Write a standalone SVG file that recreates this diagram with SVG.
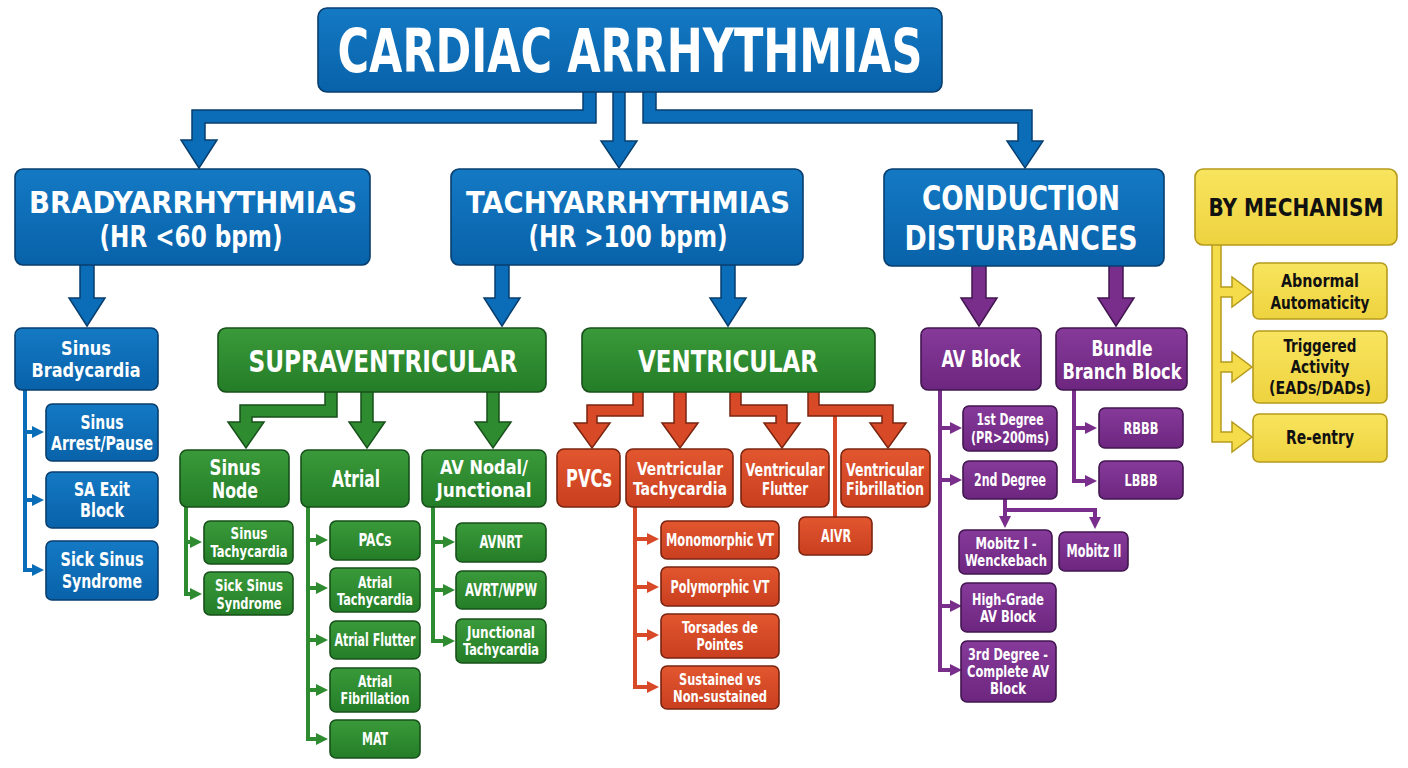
<svg xmlns="http://www.w3.org/2000/svg" width="1408" height="768" viewBox="0 0 1408 768">
<defs>
<linearGradient id="gB" x1="0" y1="0" x2="0" y2="1"><stop offset="0" stop-color="#1479c4"/><stop offset="1" stop-color="#0862a9"/></linearGradient>
<linearGradient id="gG" x1="0" y1="0" x2="0" y2="1"><stop offset="0" stop-color="#3a9a3a"/><stop offset="1" stop-color="#247d27"/></linearGradient>
<linearGradient id="gO" x1="0" y1="0" x2="0" y2="1"><stop offset="0" stop-color="#e2562f"/><stop offset="1" stop-color="#c93f1f"/></linearGradient>
<linearGradient id="gP" x1="0" y1="0" x2="0" y2="1"><stop offset="0" stop-color="#863a9a"/><stop offset="1" stop-color="#6d267f"/></linearGradient>
<linearGradient id="gY" x1="0" y1="0" x2="0" y2="1"><stop offset="0" stop-color="#f8e45e"/><stop offset="1" stop-color="#eed33f"/></linearGradient>
<marker id="mB" viewBox="0 0 12 12" refX="2" refY="6" markerWidth="12" markerHeight="12" markerUnits="userSpaceOnUse" orient="auto"><path d="M0,0 L12,6 L0,12 Z" fill="#0a6db8"/></marker>
<marker id="mG" viewBox="0 0 12 12" refX="2" refY="6" markerWidth="12" markerHeight="12" markerUnits="userSpaceOnUse" orient="auto"><path d="M0,0 L12,6 L0,12 Z" fill="#2e8b30"/></marker>
<marker id="mO" viewBox="0 0 12 12" refX="2" refY="6" markerWidth="12" markerHeight="12" markerUnits="userSpaceOnUse" orient="auto"><path d="M0,0 L12,6 L0,12 Z" fill="#d84a27"/></marker>
<marker id="mP" viewBox="0 0 12 12" refX="2" refY="6" markerWidth="12" markerHeight="12" markerUnits="userSpaceOnUse" orient="auto"><path d="M0,0 L12,6 L0,12 Z" fill="#7a2e8c"/></marker>
</defs>
<style>
.b{fill:url(#gB);stroke:#083e6e;stroke-width:1.6}
.g{fill:url(#gG);stroke:#17501a;stroke-width:1.6}
.o{fill:url(#gO);stroke:#7a2410;stroke-width:1.6}
.p{fill:url(#gP);stroke:#41164f;stroke-width:1.6}
.y{fill:url(#gY);stroke:#b59a1c;stroke-width:1.6}
.ab{fill:#0b6db7;stroke:#083e6e;stroke-width:1.5;stroke-linejoin:miter}
.ag{fill:#2e8b30;stroke:#17501a;stroke-width:1.5}
.ao{fill:#d84a27;stroke:#7a2410;stroke-width:1.5}
.ap{fill:#7a2e8c;stroke:#41164f;stroke-width:1.5}
.ay{fill:#f5dc4a;stroke:#b59a1c;stroke-width:1.5}
.lb{fill:none;stroke:#0a6db8;stroke-width:4;marker-end:url(#mB)}
.lg{fill:none;stroke:#2e8b30;stroke-width:4;marker-end:url(#mG)}
.lo{fill:none;stroke:#d84a27;stroke-width:4;marker-end:url(#mO)}
.lp{fill:none;stroke:#7a2e8c;stroke-width:4;marker-end:url(#mP)}
text{font-family:"Liberation Sans Narrow","DejaVu Sans Condensed","Liberation Sans",Arial,sans-serif;font-weight:bold;fill:#fff;text-anchor:middle}
.k{fill:#111}
</style>
<rect width="1408" height="768" fill="#fff"/>
<g id="connectors">
<path class="ab" d="M583,90 V110 H192 V140 H181 L199,168 L217,140 H205 V123 H596 V90 Z"/>
<path class="ab" d="M613,90 V141 H601 L619,168 L637,141 H625 V90 Z"/>
<path class="ab" d="M643,90 V123 H1018 V141 H1007 L1025,168 L1043,141 H1032 V110 H656 V90 Z"/>
<path class="ab" d="M80,264 V298 H69 L87,326 L105,298 H94 V264 Z"/>
<path class="ab" d="M495,264 V298 H484 L502,326 L520,298 H509 V264 Z"/>
<path class="ab" d="M721,264 V298 H710 L728,326 L746,298 H735 V264 Z"/>
<path class="ap" d="M972,265 V298 H961 L979,326 L997,298 H986 V265 Z"/>
<path class="ap" d="M1109,265 V298 H1098 L1116,326 L1134,298 H1123 V265 Z"/>
<path class="ag" d="M325,391 V405 H240 V422 H228 L246,448 L264,422 H252 V417 H337 V391 Z"/>
<path class="ag" d="M361,391 V422 H349 L367,448 L385,422 H373 V391 Z"/>
<path class="ag" d="M487,391 V422 H475 L493,448 L511,422 H499 V391 Z"/>
<path d="M835,416 V517" fill="none" stroke="#d84a27" stroke-width="4"/>
<path class="ao" d="M633,391 V405 H587 V423 H574 L592,448 L610,423 H597 V416 H643 V391 Z"/>
<path class="ao" d="M674,391 V423 H662 L680,448 L698,423 H686 V391 Z"/>
<path class="ao" d="M730,391 V416 H776 V423 H764 L782,448 L800,423 H787 V405 H741 V391 Z"/>
<path class="ao" d="M808,391 V416 H882 V423 H870 L888,448 L906,423 H893 V405 H819 V391 Z"/>
<path class="ay" d="M1212,244 V442 H1232 V452 L1252,437 L1232,422 V432 H1221 V372 H1232 V382 L1252,367 L1232,352 V362 H1221 V297 H1232 V307 L1252,292 L1232,277 V287 H1221 V244 Z"/>
<path class="lb" d="M25,389 V570 H34"/>
<path class="lb" d="M25,432 H34"/>
<path class="lb" d="M25,500 H34"/>
<path class="lg" d="M186,507 V594 H192"/>
<path class="lg" d="M186,542 H192"/>
<path class="lg" d="M308,507 V739 H318"/>
<path class="lg" d="M308,540 H318"/>
<path class="lg" d="M308,588 H318"/>
<path class="lg" d="M308,640 H318"/>
<path class="lg" d="M308,690 H318"/>
<path class="lg" d="M433,507 V641 H445"/>
<path class="lg" d="M433,542 H445"/>
<path class="lg" d="M433,590 H445"/>
<path class="lo" d="M635,507 V687 H649"/>
<path class="lo" d="M635,539 H649"/>
<path class="lo" d="M635,587 H649"/>
<path class="lo" d="M635,635 H649"/>
<path class="lp" d="M940,390 V670 H952"/>
<path class="lp" d="M940,428 H952"/>
<path class="lp" d="M940,480 H952"/>
<path class="lp" d="M940,606 H952"/>
<path class="lp" d="M1074,390 V481 H1087"/>
<path class="lp" d="M1074,428 H1087"/>
<path class="lp" d="M1005,499 V518"/>
<path class="lp" d="M1005,510 H1095 V519"/>
</g>
<g id="n-title"><rect class="b" x="318" y="8" width="624" height="84" rx="9"/><text x="630" y="72" font-size="61" textLength="585" lengthAdjust="spacingAndGlyphs">CARDIAC ARRHYTHMIAS</text></g>
<g id="n-brady"><rect class="b" x="15" y="169" width="355" height="96" rx="8"/><text x="193" y="213" font-size="31" textLength="328" lengthAdjust="spacingAndGlyphs">BRADYARRHYTHMIAS</text><text x="191" y="247" font-size="30" textLength="183" lengthAdjust="spacingAndGlyphs">(HR &lt;60 bpm)</text></g>
<g id="n-tachy"><rect class="b" x="451" y="169" width="352" height="96" rx="8"/><text x="628" y="213" font-size="31" textLength="324" lengthAdjust="spacingAndGlyphs">TACHYARRHYTHMIAS</text><text x="628" y="247" font-size="30" textLength="199" lengthAdjust="spacingAndGlyphs">(HR &gt;100 bpm)</text></g>
<g id="n-conduction"><rect class="b" x="884" y="169" width="280" height="97" rx="8"/><text x="1021" y="210" font-size="33" textLength="198" lengthAdjust="spacingAndGlyphs">CONDUCTION</text><text x="1021" y="250" font-size="33" textLength="233" lengthAdjust="spacingAndGlyphs">DISTURBANCES</text></g>
<g id="n-mechanism"><rect class="y" x="1195" y="169" width="202" height="76" rx="8"/><text class="k" x="1296" y="216" font-size="25" textLength="175" lengthAdjust="spacingAndGlyphs">BY MECHANISM</text></g>
<g id="n-sinusbrady"><rect class="b" x="15" y="328" width="143" height="62" rx="7"/><text x="86" y="355" font-size="20" textLength="50" lengthAdjust="spacingAndGlyphs">Sinus</text><text x="86" y="377" font-size="20" textLength="109" lengthAdjust="spacingAndGlyphs">Bradycardia</text></g>
<g id="n-sinusarrest"><rect class="b" x="46" y="404" width="112" height="57" rx="6"/><text x="102" y="429" font-size="19" textLength="43" lengthAdjust="spacingAndGlyphs">Sinus</text><text x="102" y="450" font-size="19" textLength="102" lengthAdjust="spacingAndGlyphs">Arrest/Pause</text></g>
<g id="n-saexit"><rect class="b" x="46" y="472" width="112" height="56" rx="6"/><text x="102" y="496" font-size="19" textLength="56" lengthAdjust="spacingAndGlyphs">SA Exit</text><text x="102" y="517" font-size="19" textLength="44" lengthAdjust="spacingAndGlyphs">Block</text></g>
<g id="n-sss-blue"><rect class="b" x="46" y="541" width="112" height="59" rx="6"/><text x="102" y="566" font-size="19" textLength="83" lengthAdjust="spacingAndGlyphs">Sick Sinus</text><text x="102" y="588" font-size="19" textLength="80" lengthAdjust="spacingAndGlyphs">Syndrome</text></g>
<g id="n-supra"><rect class="g" x="218" y="328" width="328" height="64" rx="8"/><text x="383" y="372" font-size="31" textLength="269" lengthAdjust="spacingAndGlyphs">SUPRAVENTRICULAR</text></g>
<g id="n-ventricular"><rect class="g" x="582" y="328" width="293" height="64" rx="8"/><text x="728" y="372" font-size="31" textLength="180" lengthAdjust="spacingAndGlyphs">VENTRICULAR</text></g>
<g id="n-sinusnode"><rect class="g" x="180" y="450" width="109" height="57" rx="7"/><text x="235" y="475" font-size="21" textLength="51" lengthAdjust="spacingAndGlyphs">Sinus</text><text x="235" y="498" font-size="21" textLength="46" lengthAdjust="spacingAndGlyphs">Node</text></g>
<g id="n-atrial"><rect class="g" x="301" y="450" width="108" height="57" rx="7"/><text x="356" y="487" font-size="23" textLength="48" lengthAdjust="spacingAndGlyphs">Atrial</text></g>
<g id="n-avnodal"><rect class="g" x="422" y="450" width="124" height="57" rx="7"/><text x="484" y="474" font-size="19" textLength="88" lengthAdjust="spacingAndGlyphs">AV Nodal/</text><text x="484" y="497" font-size="19" textLength="95" lengthAdjust="spacingAndGlyphs">Junctional</text></g>
<g id="n-sinustachy"><rect class="g" x="204" y="521" width="89" height="43" rx="6"/><text x="249" y="539" font-size="15" textLength="37" lengthAdjust="spacingAndGlyphs">Sinus</text><text x="249" y="557" font-size="15" textLength="77" lengthAdjust="spacingAndGlyphs">Tachycardia</text></g>
<g id="n-sss-green"><rect class="g" x="204" y="572" width="89" height="43" rx="6"/><text x="249" y="591" font-size="15" textLength="68" lengthAdjust="spacingAndGlyphs">Sick Sinus</text><text x="249" y="609" font-size="15" textLength="65" lengthAdjust="spacingAndGlyphs">Syndrome</text></g>
<g id="n-pacs"><rect class="g" x="330" y="521" width="90" height="39" rx="6"/><text x="375" y="546" font-size="17" textLength="33" lengthAdjust="spacingAndGlyphs">PACs</text></g>
<g id="n-atachy"><rect class="g" x="330" y="568" width="90" height="44" rx="6"/><text x="375" y="588" font-size="15" textLength="34" lengthAdjust="spacingAndGlyphs">Atrial</text><text x="375" y="605" font-size="15" textLength="76" lengthAdjust="spacingAndGlyphs">Tachycardia</text></g>
<g id="n-aflutter"><rect class="g" x="330" y="621" width="90" height="38" rx="6"/><text x="375" y="646" font-size="17" textLength="81" lengthAdjust="spacingAndGlyphs">Atrial Flutter</text></g>
<g id="n-afib"><rect class="g" x="330" y="668" width="90" height="44" rx="6"/><text x="375" y="687" font-size="15" textLength="34" lengthAdjust="spacingAndGlyphs">Atrial</text><text x="375" y="704" font-size="15" textLength="69" lengthAdjust="spacingAndGlyphs">Fibrillation</text></g>
<g id="n-mat"><rect class="g" x="330" y="720" width="90" height="38" rx="6"/><text x="375" y="745" font-size="17" textLength="26" lengthAdjust="spacingAndGlyphs">MAT</text></g>
<g id="n-avnrt"><rect class="g" x="456" y="523" width="90" height="39" rx="6"/><text x="501" y="548" font-size="17" textLength="43" lengthAdjust="spacingAndGlyphs">AVNRT</text></g>
<g id="n-avrt"><rect class="g" x="456" y="571" width="90" height="38" rx="6"/><text x="501" y="596" font-size="17" textLength="72" lengthAdjust="spacingAndGlyphs">AVRT/WPW</text></g>
<g id="n-jtachy"><rect class="g" x="456" y="619" width="90" height="44" rx="6"/><text x="501" y="638" font-size="15" textLength="68" lengthAdjust="spacingAndGlyphs">Junctional</text><text x="501" y="655" font-size="15" textLength="76" lengthAdjust="spacingAndGlyphs">Tachycardia</text></g>
<g id="n-pvcs"><rect class="o" x="557" y="449" width="63" height="58" rx="7"/><text x="589" y="487" font-size="24" textLength="46" lengthAdjust="spacingAndGlyphs">PVCs</text></g>
<g id="n-vt"><rect class="o" x="626" y="449" width="107" height="58" rx="7"/><text x="680" y="475" font-size="18" textLength="86" lengthAdjust="spacingAndGlyphs">Ventricular</text><text x="680" y="495" font-size="18" textLength="94" lengthAdjust="spacingAndGlyphs">Tachycardia</text></g>
<g id="n-vflutter"><rect class="o" x="741" y="449" width="88" height="58" rx="7"/><text x="785" y="476" font-size="18" textLength="79" lengthAdjust="spacingAndGlyphs">Ventricular</text><text x="785" y="495" font-size="18" textLength="46" lengthAdjust="spacingAndGlyphs">Flutter</text></g>
<g id="n-vfib"><rect class="o" x="841" y="449" width="89" height="58" rx="7"/><text x="885" y="476" font-size="18" textLength="78" lengthAdjust="spacingAndGlyphs">Ventricular</text><text x="885" y="495" font-size="18" textLength="78" lengthAdjust="spacingAndGlyphs">Fibrillation</text></g>
<g id="n-aivr"><rect class="o" x="799" y="517" width="73" height="38" rx="6"/><text x="836" y="542" font-size="17" textLength="30" lengthAdjust="spacingAndGlyphs">AIVR</text></g>
<g id="n-mono"><rect class="o" x="661" y="521" width="118" height="38" rx="6"/><text x="720" y="546" font-size="17" textLength="108" lengthAdjust="spacingAndGlyphs">Monomorphic VT</text></g>
<g id="n-poly"><rect class="o" x="661" y="567" width="118" height="39" rx="6"/><text x="720" y="593" font-size="17" textLength="99" lengthAdjust="spacingAndGlyphs">Polymorphic VT</text></g>
<g id="n-torsades"><rect class="o" x="661" y="614" width="118" height="44" rx="6"/><text x="720" y="633" font-size="15" textLength="76" lengthAdjust="spacingAndGlyphs">Torsades de</text><text x="720" y="650" font-size="15" textLength="47" lengthAdjust="spacingAndGlyphs">Pointes</text></g>
<g id="n-sustained"><rect class="o" x="661" y="666" width="118" height="43" rx="6"/><text x="720" y="685" font-size="15" textLength="82" lengthAdjust="spacingAndGlyphs">Sustained vs</text><text x="720" y="702" font-size="15" textLength="94" lengthAdjust="spacingAndGlyphs">Non-sustained</text></g>
<g id="n-avblock"><rect class="p" x="921" y="328" width="120" height="62" rx="7"/><text x="981" y="367" font-size="23" textLength="79" lengthAdjust="spacingAndGlyphs">AV Block</text></g>
<g id="n-bbb"><rect class="p" x="1056" y="328" width="131" height="62" rx="7"/><text x="1122" y="356" font-size="21" textLength="61" lengthAdjust="spacingAndGlyphs">Bundle</text><text x="1122" y="379" font-size="21" textLength="119" lengthAdjust="spacingAndGlyphs">Branch Block</text></g>
<g id="n-1st"><rect class="p" x="963" y="406" width="94" height="45" rx="6"/><text x="1010" y="425" font-size="15" textLength="67" lengthAdjust="spacingAndGlyphs">1st Degree</text><text x="1010" y="443" font-size="15" textLength="78" lengthAdjust="spacingAndGlyphs">(PR&gt;200ms)</text></g>
<g id="n-2nd"><rect class="p" x="963" y="461" width="94" height="38" rx="6"/><text x="1010" y="486" font-size="17" textLength="72" lengthAdjust="spacingAndGlyphs">2nd Degree</text></g>
<g id="n-mobitz1"><rect class="p" x="959" y="530" width="93" height="44" rx="6"/><text x="1006" y="549" font-size="15" textLength="61" lengthAdjust="spacingAndGlyphs">Mobitz I -</text><text x="1006" y="566" font-size="15" textLength="82" lengthAdjust="spacingAndGlyphs">Wenckebach</text></g>
<g id="n-mobitz2"><rect class="p" x="1059" y="532" width="69" height="39" rx="6"/><text x="1094" y="557" font-size="17" textLength="55" lengthAdjust="spacingAndGlyphs">Mobitz II</text></g>
<g id="n-highgrade"><rect class="p" x="961" y="583" width="95" height="49" rx="6"/><text x="1008" y="605" font-size="15" textLength="72" lengthAdjust="spacingAndGlyphs">High-Grade</text><text x="1008" y="622" font-size="15" textLength="56" lengthAdjust="spacingAndGlyphs">AV Block</text></g>
<g id="n-3rd"><rect class="p" x="961" y="641" width="95" height="61" rx="6"/><text x="1008" y="660" font-size="15" textLength="80" lengthAdjust="spacingAndGlyphs">3rd Degree -</text><text x="1008" y="677" font-size="15" textLength="82" lengthAdjust="spacingAndGlyphs">Complete AV</text><text x="1008" y="694" font-size="15" textLength="36" lengthAdjust="spacingAndGlyphs">Block</text></g>
<g id="n-rbbb"><rect class="p" x="1099" y="408" width="84" height="40" rx="6"/><text x="1141" y="434" font-size="16" textLength="35" lengthAdjust="spacingAndGlyphs">RBBB</text></g>
<g id="n-lbbb"><rect class="p" x="1099" y="461" width="84" height="38" rx="6"/><text x="1141" y="486" font-size="16" textLength="33" lengthAdjust="spacingAndGlyphs">LBBB</text></g>
<g id="n-abnormal"><rect class="y" x="1253" y="263" width="134" height="56" rx="6"/><text class="k" x="1320" y="287" font-size="18" textLength="78" lengthAdjust="spacingAndGlyphs">Abnormal</text><text class="k" x="1320" y="309" font-size="18" textLength="99" lengthAdjust="spacingAndGlyphs">Automaticity</text></g>
<g id="n-triggered"><rect class="y" x="1253" y="331" width="134" height="72" rx="6"/><text class="k" x="1320" y="352" font-size="18" textLength="73" lengthAdjust="spacingAndGlyphs">Triggered</text><text class="k" x="1320" y="373" font-size="18" textLength="59" lengthAdjust="spacingAndGlyphs">Activity</text><text class="k" x="1320" y="394" font-size="18" textLength="102" lengthAdjust="spacingAndGlyphs">(EADs/DADs)</text></g>
<g id="n-reentry"><rect class="y" x="1253" y="414" width="134" height="48" rx="6"/><text class="k" x="1320" y="444" font-size="19" textLength="68" lengthAdjust="spacingAndGlyphs">Re-entry</text></g>
</svg>
